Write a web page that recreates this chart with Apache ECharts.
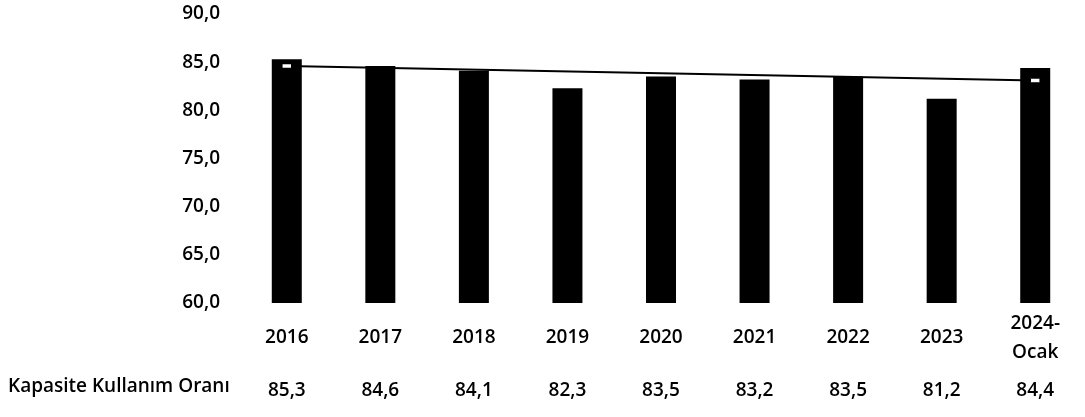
<!DOCTYPE html>
<html>
<head>
<meta charset="utf-8">
<script src="https://cdn.jsdelivr.net/npm/echarts@6/dist/echarts.min.js"></script>
<style>
  html, body { margin: 0; padding: 0; background: #fff; }
  #chart { width: 1085px; height: 417px; }
</style>
</head>
<body>
<div id="chart"></div>
<script>
// kategoriler ve değerler
var years = ["2016", "2017", "2018", "2019", "2020", "2021", "2022", "2023", "2024-\nOcak"];
var kkoValues = [85.3, 84.6, 84.1, 82.3, 83.5, 83.2, 83.5, 81.2, 84.4];
// eğilim çizgisinin uçları
var trendStart = 84.6;
var trendEnd = 83.1;
var rowTitle = "Kapasite Kullanım Oranı";

var fmt = function(v) {
  return v.toFixed(1).replace(".", ",");
};

var trendData = years.map(function(_, i) {
  if (i === 0) return trendStart;
  if (i === years.length - 1) return trendEnd;
  return null;
});

var font = "Open Sans";
var labelBase = {
  color: "#000",
  fontFamily: font,
  fontSize: 19,
  fontWeight: 600
};

// iki satırlı etiket biraz yukarıda duruyor
var yearItems = years.map(function(y) {
  if (y.indexOf("\n") >= 0) {
    return {
      value: y,
      textStyle: Object.assign({}, labelBase, {
        verticalAlign: "middle",
        lineHeight: 29,
        padding: [0, 0, 11, 0]
      })
    };
  }
  return y;
});

var chart = echarts.init(document.getElementById("chart"));

var option = {
  animation: false,
  backgroundColor: "#fff",
  grid: { left: 240, right: 3, top: 14, bottom: 114 },
  xAxis: [
    {
      type: "category",
      data: yearItems,
      axisLine: { show: false },
      axisTick: { show: false },
      axisLabel: Object.assign({}, labelBase, {
        margin: 35,
        verticalAlign: "middle",
        lineHeight: 29,
        interval: 0
      })
    },
    {
      type: "category",
      position: "bottom",
      data: kkoValues.map(fmt),
      axisLine: { show: false },
      axisTick: { show: false },
      axisLabel: Object.assign({}, labelBase, {
        margin: 88,
        verticalAlign: "middle",
        interval: 0
      })
    }
  ],
  yAxis: {
    type: "value",
    min: 60,
    max: 90,
    interval: 5,
    splitLine: { show: false },
    axisLine: { show: false },
    axisTick: { show: false },
    axisLabel: Object.assign({}, labelBase, {
      margin: 20,
      formatter: fmt
    })
  },
  graphic: [
    {
      type: "text",
      left: 8,
      top: 377,
      style: {
        text: rowTitle,
        fill: "#000",
        font: "600 19px '" + font + "'"
      }
    }
  ],
  series: [
    {
      type: "bar",
      data: kkoValues,
      barWidth: 30,
      itemStyle: { color: "#000" }
    },
    {
      type: "line",
      xAxisIndex: 0,
      data: trendData,
      connectNulls: true,
      symbol: "rect",
      symbolSize: [10, 4],
      itemStyle: { color: "#fff", borderColor: "#000", borderWidth: 1 },
      lineStyle: { color: "#000", width: 2 },
      z: 5
    }
  ]
};

chart.setOption(option);
</script>
</body>
</html>
